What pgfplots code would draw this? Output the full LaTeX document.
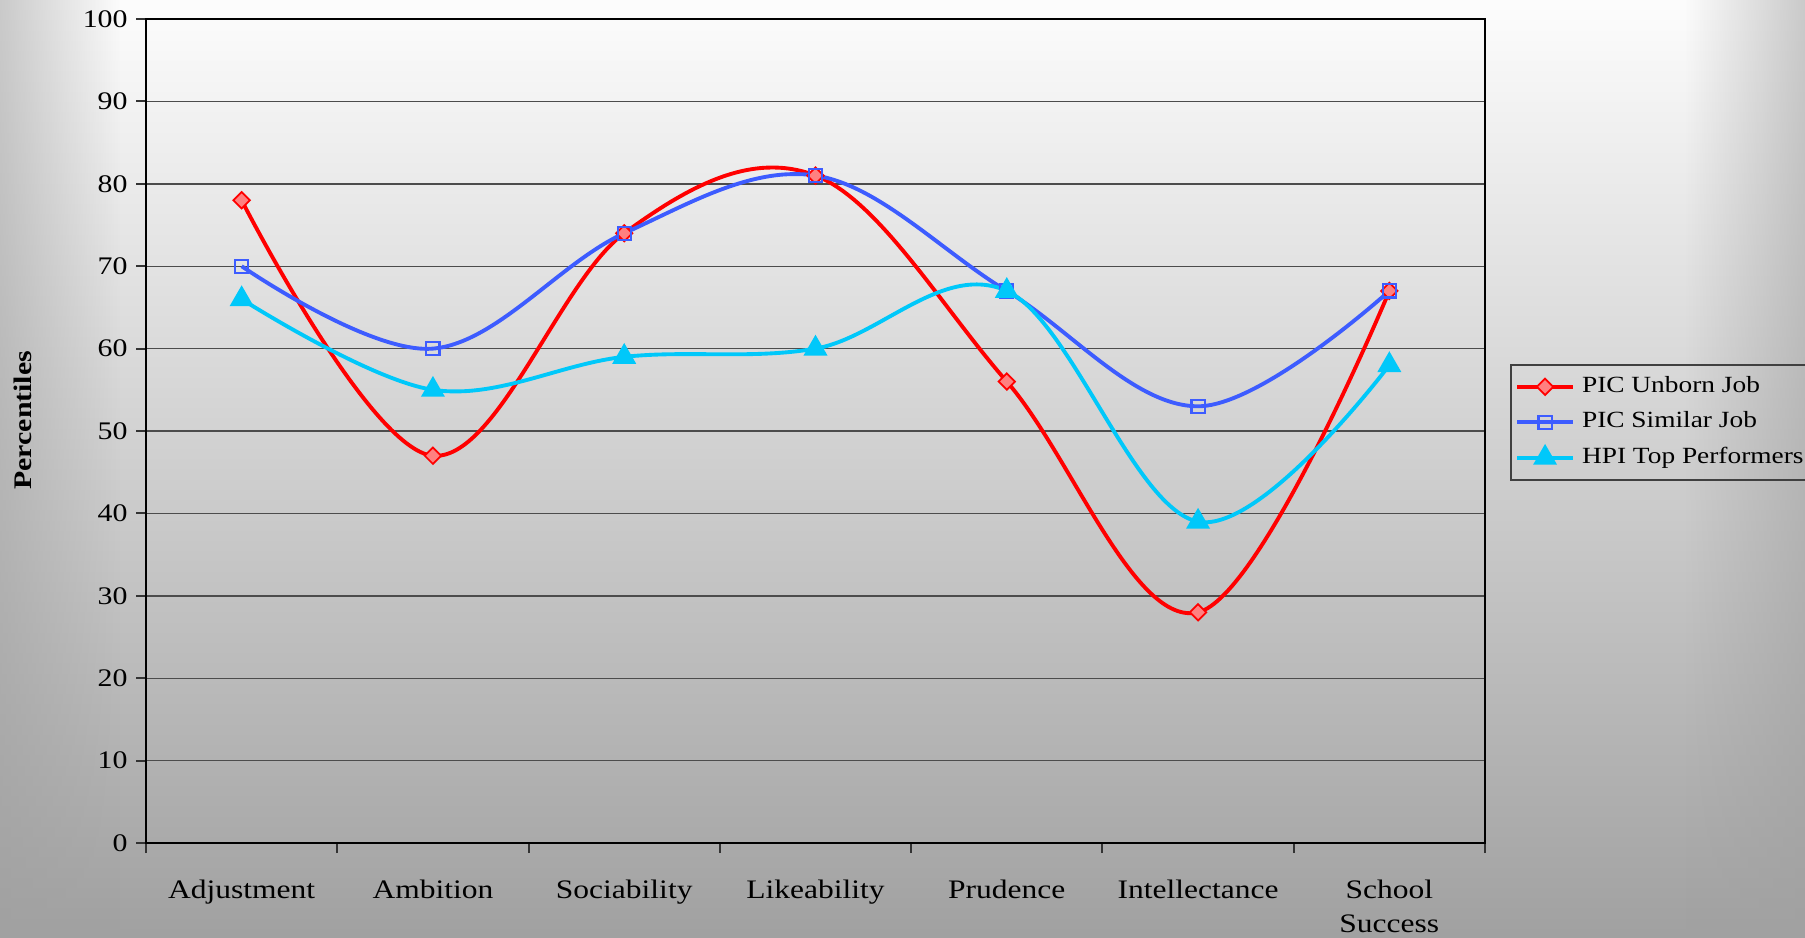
\documentclass[border=0pt]{standalone}
\usepackage{pgfplots}
\pgfplotsset{compat=1.18}
\usetikzlibrary{fadings}
\usepackage{fontspec}
\setmainfont[FakeStretch=1.18]{Liberation Serif}
\definecolor{cred}{RGB}{255,0,0}
\definecolor{cblue}{RGB}{61,92,255}
\definecolor{ccyan}{RGB}{0,200,250}
\definecolor{cpink}{RGB}{255,128,128}
\newcommand\ff{\fontsize{7.2}{9.6}\selectfont}
\newcommand\fx{\fontsize{7.6}{9.6}\selectfont}
\newcommand\fl{\fontsize{6.6}{8}\selectfont}
\begin{document}
\begin{tikzpicture}
\path[use as bounding box] (0,0) rectangle (180.5mm,93.7mm);
\clip (0,0) rectangle (180.5mm,93.7mm);
\shade[top color=black!1, middle color=black!11, bottom color=black!37] (0,0) rectangle (180.5mm,93.7mm);
\fill[black!37, opacity=0.55, path fading=east] (0,0) rectangle (12mm,93.7mm);
\fill[black!37, opacity=0.55, path fading=west] (168.5mm,0) rectangle (180.5mm,93.7mm);
\begin{axis}[
  at={(14.6mm,9.4mm)}, anchor=south west,
  scale only axis, width=133.9mm, height=82.4mm,
  xmin=-0.5, xmax=6.5, ymin=0, ymax=100,
  xtick={0,...,6},
  xticklabels={Adjustment,Ambition,Sociability,Likeability,Prudence,Intellectance,{School\\Success}},
  minor xtick={-0.5,0.5,...,6.5},
  major x tick style={draw=none},
  minor tick style={black!80, line width=0.6pt},
  ytick={0,10,...,100},
  ytick style={black!80, line width=0.6pt},
  ymajorgrids, grid style={black!70, line width=0.4pt},
  tick align=outside, tick pos=left,
  major tick length=1mm, minor tick length=1mm,
  axis line style={line width=0.7pt},
  /pgf/number format/assume math mode=true,
  tick label style={font=\ff},
  xticklabel style={font=\fx, align=center, yshift=-1.5mm},
  yticklabel style={xshift=0.4mm},
  ylabel={\textbf{Percentiles}},
  every axis y label/.style={at={(axis description cs:-0.092,0.513)}, rotate=90, anchor=center, font=\ff},
  legend style={at={(rel axis cs:1.0187,0.5813)}, anchor=north west, draw=black!75, fill=none,
    font=\fl, inner sep=1.2pt, row sep=0pt, line width=0.5pt},
  legend cell align=left,
  legend image code/.code={\draw[mark repeat=2,mark phase=2] plot coordinates {(0cm,0cm)(0.28cm,0cm)(0.56cm,0cm)};},
  every axis plot/.append style={line width=1.1pt, smooth, tension=0.6},
]
\addplot[cred, mark=square*, mark options={rotate=45, mark size=0.58mm, fill=cpink, draw=cred, line width=0.5pt}]
  coordinates {(0,78)(1,47)(2,74)(3,81)(4,56)(5,28)(6,67)};
\addlegendentry{PIC Unborn Job}
\addplot[cblue, mark=square, mark options={mark size=0.66mm, draw=cblue, line width=0.6pt}]
  coordinates {(0,70)(1,60)(2,74)(3,81)(4,67)(5,53)(6,67)};
\addlegendentry{PIC Similar Job}
\addplot[ccyan, mark=triangle*, mark options={mark size=1mm, fill=ccyan, draw=ccyan}]
  coordinates {(0,66)(1,55)(2,59)(3,60)(4,67)(5,39)(6,58)};
\addlegendentry{HPI Top Performers}
\end{axis}
\end{tikzpicture}
\end{document}
